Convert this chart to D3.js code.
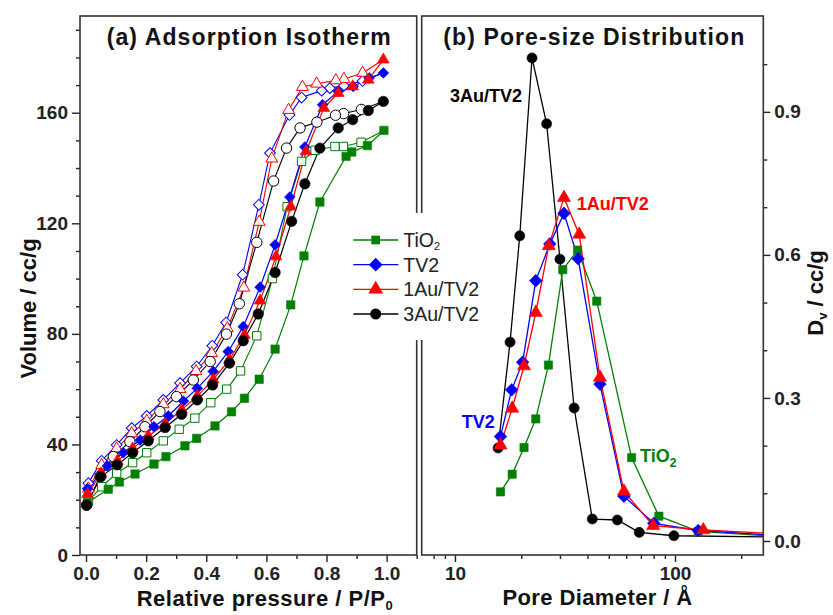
<!DOCTYPE html>
<html lang="en">
<head>
<meta charset="UTF-8">
<title>Adsorption Isotherm / Pore-size Distribution</title>
<script src="https://cdn.jsdelivr.net/npm/d3@7/dist/d3.min.js"></script>
<style>
  body { margin: 0; background: #fff; }
  svg text { font-family: "Liberation Sans", Arial, sans-serif; }
</style>
</head>
<body>
<svg id="chart" width="833" height="615"></svg>
<script>
// ---- data ----
const samples = ['TiO2', 'TV2', '1Au/TV2', '3Au/TV2'];

// (a) isotherm, [P/P0, volume cc/g], adsorption = filled, desorption = open
const adsTiO2 = [[0.005,19],[0.074,23.8],[0.111,26.4],[0.163,29.3],[0.226,32.9],[0.266,35.6],[0.329,39.5],[0.368,42.2],[0.429,46.7],[0.484,51.8],[0.527,56.7],[0.576,63.6],[0.629,74.5],[0.681,90.5],[0.725,108.2],[0.778,127.7],[0.865,144.2],[0.884,145.8],[0.936,148.1],[0.991,153.6]];
const desTiO2 = [[0.991,153.6],[0.915,149.3],[0.856,147.8],[0.828,147.8],[0.762,146.4],[0.717,142.4],[0.669,126],[0.62,100],[0.568,79.3],[0.514,66.6],[0.468,60],[0.415,55.1],[0.362,49.5],[0.31,45.5],[0.257,41.3],[0.202,37],[0.155,33.4],[0.102,29.6],[0.052,24.7],[0.008,19.5]];
const adsTV2 = [[0.005,24],[0.071,32.2],[0.124,37],[0.18,41.6],[0.226,46.4],[0.274,50.3],[0.324,55.7],[0.37,60.3],[0.423,66.4],[0.473,73.6],[0.523,82.6],[0.579,96.9],[0.629,112.2],[0.678,129.5],[0.728,147.6],[0.787,162.9],[0.839,167.7],[0.889,169.5],[0.942,172.6],[0.989,174.4]];
const desTV2 = [[0.989,174.4],[0.92,171.5],[0.858,169.8],[0.811,168.9],[0.784,168],[0.717,165.5],[0.677,159.2],[0.612,145.4],[0.575,126.7],[0.521,101.4],[0.466,84.1],[0.42,75.7],[0.368,68.2],[0.313,62.2],[0.257,56.1],[0.202,50.3],[0.152,45.9],[0.102,39.8],[0.052,34.1],[0.008,26]];
const ads1Au = [[0.005,22],[0.05,29.5],[0.104,34],[0.155,38.5],[0.207,43],[0.263,47.5],[0.318,52.5],[0.37,57.5],[0.423,63.5],[0.477,70.6],[0.527,79.6],[0.579,92],[0.632,108],[0.681,126],[0.732,146],[0.791,161.7],[0.839,167.1],[0.887,169.5],[0.939,171.9],[0.989,179.2]];
const des1Au = [[0.989,179.2],[0.92,174.4],[0.858,172.2],[0.831,171.7],[0.767,170.5],[0.72,169.3],[0.674,161],[0.618,143.4],[0.576,120.5],[0.525,96.7],[0.47,82],[0.418,73],[0.366,66.5],[0.313,60],[0.257,54.5],[0.202,48.5],[0.152,44],[0.102,38.5],[0.052,32.5],[0.008,24]];
const ads3Au = [[0.002,18.1],[0.049,28.3],[0.104,32.6],[0.155,37],[0.207,41.3],[0.263,46.1],[0.318,50.9],[0.37,56.1],[0.421,61.5],[0.477,69.4],[0.523,77.5],[0.573,87.2],[0.629,102.2],[0.684,120.7],[0.728,134.3],[0.778,147.2],[0.839,154.5],[0.887,157.5],[0.939,160.8],[0.989,164.1]];
const des3Au = [[0.989,164.1],[0.916,161.2],[0.857,159.7],[0.83,159.1],[0.768,156.6],[0.712,154.5],[0.667,147.2],[0.624,135.3],[0.568,113.1],[0.51,90.9],[0.467,79.9],[0.413,70],[0.357,63.3],[0.301,57.3],[0.246,51.9],[0.196,46.4],[0.146,41],[0.091,35.6],[0.047,28.6],[0.002,18]];

// (b) pore-size distribution, [pore diameter Å, Dv cc/g]
const psdTiO2 = [[16.1,0.103],[18.2,0.14],[20.6,0.196],[23.3,0.256],[26.6,0.369],[30.9,0.569],[36.1,0.61],[44.1,0.503],[63.5,0.175],[84.5,0.052],[127.6,0.02],[300,0.009]];
const psdTV2 = [[16.1,0.219],[18.1,0.317],[20.3,0.375],[23.3,0.546],[27,0.623],[31.3,0.687],[36.3,0.592],[45.6,0.329],[58.6,0.094],[80.1,0.037],[127.6,0.022],[300,0.011]];
const psd1Au = [[16.1,0.201],[18.2,0.278],[20.6,0.367],[23.3,0.479],[26.7,0.619],[31.3,0.72],[36.7,0.643],[45.6,0.343],[58.6,0.104],[79.6,0.032],[134.5,0.023],[300,0.015]];
const psd3Au = [[15.7,0.195],[17.8,0.417],[19.7,0.64],[22.4,1.013],[26.1,0.875],[30,0.591],[34.8,0.279],[42.1,0.046],[54.7,0.044],[68.8,0.018],[98.9,0.011],[300,0.008]];

const isoAds = [adsTiO2, adsTV2, ads1Au, ads3Au];
const isoDes = [desTiO2, desTV2, des1Au, des3Au];
const psd = [psdTiO2, psdTV2, psd1Au, psd3Au];

const isoXTicks = [0, 0.2, 0.4, 0.6, 0.8, 1.0];
const isoXMinor = [0.1, 0.3, 0.5, 0.7, 0.9, 1.1];
const isoYTicks = [0, 40, 80, 120, 160];
const isoYMinor = [10, 20, 30, 50, 60, 70, 90, 100, 110, 130, 140, 150, 170, 180, 190];
const psdXTicks = [10, 100];
const psdXMinor = [8, 9, 20, 30, 40, 50, 60, 70, 80, 90, 200];
const psdYTicks = [0, 0.3, 0.6, 0.9];
const psdYMinor = [0.1, 0.2, 0.4, 0.5, 0.7, 0.8, 1.0];

// ---- styles ----
const colors = ['#008000', '#0000ff', '#ff0000', '#000000'];
const shapes = ['square', 'diamond', 'triangle', 'circle'];

const svg = d3.select('#chart');
svg.append('rect').attr('width', 833).attr('height', 615).attr('fill', '#fff');

const pa = { x0: 80, x1: 416.7, y0: 16, y1: 555 };
const pb = { x0: 421.7, x1: 763.3, y0: 16, y1: 555 };

const xA = d3.scaleLinear().domain([-0.02, 1.1]).range([pa.x0, pa.x1]);
const yA = d3.scaleLinear().domain([0, 195]).range([pa.y1, pa.y0]);
const xB = d3.scaleLog().domain([7.06, 252]).range([pb.x0, pb.x1]);
const yB = d3.scaleLinear().domain([-0.0294, 1.101]).range([pb.y1, pb.y0]);

const defs = svg.append('defs');
[['clipA', pa], ['clipB', pb]].forEach(([id, p]) => {
  defs.append('clipPath').attr('id', id).append('rect')
    .attr('x', p.x0).attr('y', p.y0).attr('width', p.x1 - p.x0).attr('height', p.y1 - p.y0);
});

function symbolPath(shape, size) {
  const type = shape === 'circle' ? d3.symbolCircle
    : shape === 'triangle' ? d3.symbolTriangle : d3.symbolSquare;
  return d3.symbol().type(type).size(size)();
}

function drawMarkers(g, pts, x, y, i, filled, size) {
  g.selectAll(null).data(pts).enter().append('path')
    .attr('d', symbolPath(shapes[i], size[shapes[i]]))
    .attr('transform', d => `translate(${x(d[0])},${y(d[1])})` + (shapes[i] === 'diamond' ? ' rotate(45)' : ''))
    .attr('fill', filled ? colors[i] : '#fff')
    .attr('stroke', colors[i])
    .attr('stroke-width', filled ? 0.6 : 1);
}

// ---- panel (a) ----
const gA = svg.append('g').attr('clip-path', 'url(#clipA)');
const lineA = d3.line().x(d => xA(d[0])).y(d => yA(d[1]));
const sizeA = { square: 70, diamond: 58, triangle: 60, circle: 85 };
[0, 1, 2, 3].forEach(i => {
  gA.append('path').attr('d', lineA(isoDes[i])).attr('fill', 'none')
    .attr('stroke', colors[i]).attr('stroke-width', 1.1);
  gA.append('path').attr('d', lineA(isoAds[i])).attr('fill', 'none')
    .attr('stroke', colors[i]).attr('stroke-width', 1.2);
});
[0, 1, 2, 3].forEach(i => drawMarkers(gA, isoDes[i].slice(1), xA, yA, i, false, sizeA));
[0, 1, 2, 3].forEach(i => drawMarkers(gA, isoAds[i], xA, yA, i, true, sizeA));

// ---- panel (b) ----
const gB = svg.append('g').attr('clip-path', 'url(#clipB)');
const lineB = d3.line().x(d => xB(d[0])).y(d => yB(d[1]));
const sizeB = { square: 68, diamond: 80, triangle: 75, circle: 80 };
[3, 0, 1, 2].forEach(i => {
  gB.append('path').attr('d', lineB(psd[i])).attr('fill', 'none')
    .attr('stroke', colors[i]).attr('stroke-width', 1.3);
});
[3, 0, 1, 2].forEach(i => drawMarkers(gB, psd[i], xB, yB, i, true, sizeB));

// ---- axes ----
function styleAxis(g, size, weight) {
  g.select('.domain').remove();
  g.attr('font-size', size).attr('font-weight', weight)
    .attr('font-family', '"Liberation Sans", Arial, sans-serif')
    .style('color', '#222');
  g.selectAll('line').attr('stroke-width', 1.4);
}

const axisFmt = d => d3.format('.1f')(d);
svg.append('g').attr('transform', `translate(0,${pa.y1})`)
  .call(d3.axisBottom(xA).tickValues(isoXTicks).tickSize(7).tickPadding(5).tickFormat(axisFmt))
  .call(g => styleAxis(g, 19, 'bold'));
svg.append('g').attr('transform', `translate(0,${pa.y1})`)
  .call(d3.axisBottom(xA).tickValues(isoXMinor).tickSize(4).tickFormat(''))
  .call(g => styleAxis(g, 19, 'bold'));
svg.append('g').attr('transform', `translate(${pa.x0},0)`)
  .call(d3.axisLeft(yA).tickValues(isoYTicks).tickSize(8).tickPadding(4).tickFormat(d3.format('d')))
  .call(g => styleAxis(g, 19, 'bold'));
svg.append('g').attr('transform', `translate(${pa.x0},0)`)
  .call(d3.axisLeft(yA).tickValues(isoYMinor).tickSize(4).tickFormat(''))
  .call(g => styleAxis(g, 19, 'bold'));

svg.append('g').attr('transform', `translate(0,${pb.y1})`)
  .call(d3.axisBottom(xB).tickValues(psdXTicks).tickSize(7).tickPadding(5).tickFormat(d3.format('d')))
  .call(g => styleAxis(g, 19, 'bold'));
svg.append('g').attr('transform', `translate(0,${pb.y1})`)
  .call(d3.axisBottom(xB).tickValues(psdXMinor).tickSize(4).tickFormat(''))
  .call(g => styleAxis(g, 19, 'bold'));
svg.append('g').attr('transform', `translate(${pb.x1},0)`)
  .call(d3.axisRight(yB).tickValues(psdYTicks).tickSize(7).tickPadding(4).tickFormat(axisFmt))
  .call(g => styleAxis(g, 19, 'bold'));
svg.append('g').attr('transform', `translate(${pb.x1},0)`)
  .call(d3.axisRight(yB).tickValues(psdYMinor).tickSize(4).tickFormat(''))
  .call(g => styleAxis(g, 19, 'bold'));

// frames
[pa, pb].forEach(p => {
  svg.append('rect').attr('x', p.x0).attr('y', p.y0)
    .attr('width', p.x1 - p.x0).attr('height', p.y1 - p.y0)
    .attr('fill', 'none').attr('stroke', '#333').attr('stroke-width', 1.6);
});

// ---- titles and labels ----
svg.append('text').attr('x', 106.7).attr('y', 45)
  .attr('font-size', 23).attr('font-weight', 'bold').attr('letter-spacing', 1.1).attr('fill', '#111')
  .text('(a) Adsorption Isotherm');
svg.append('text').attr('x', 443.3).attr('y', 45)
  .attr('font-size', 23).attr('font-weight', 'bold').attr('letter-spacing', 1.1).attr('fill', '#111')
  .text('(b) Pore-size Distribution');

const xlab = svg.append('text').attr('x', 136.7).attr('y', 606)
  .attr('font-size', 22).attr('font-weight', 'bold').attr('letter-spacing', 0.5).attr('fill', '#111');
xlab.append('tspan').text('Relative pressure / P/P');
xlab.append('tspan').attr('font-size', 13).attr('dy', 4).text('0');

svg.append('text').attr('x', 597.5).attr('y', 605).attr('text-anchor', 'middle')
  .attr('font-size', 22).attr('font-weight', 'bold').attr('letter-spacing', 0.4).attr('fill', '#111')
  .text('Pore Diameter / Å');

svg.append('text').attr('transform', 'translate(36,308.5) rotate(-90)').attr('text-anchor', 'middle')
  .attr('font-size', 22).attr('font-weight', 'bold').attr('fill', '#111')
  .text('Volume / cc/g');

const ylabB = svg.append('text').attr('transform', 'translate(823,293) rotate(-90)').attr('text-anchor', 'middle')
  .attr('font-size', 22).attr('font-weight', 'bold').attr('fill', '#111');
ylabB.append('tspan').text('D');
ylabB.append('tspan').attr('font-size', 13).attr('dy', 4).text('v');
ylabB.append('tspan').attr('dy', -4).text(' / cc/g');

// in-plot labels for panel (b)
function subLabel(x, y, color, main, sub) {
  const t = svg.append('text').attr('x', x).attr('y', y)
    .attr('font-size', 18).attr('font-weight', 'bold').attr('fill', color);
  t.append('tspan').text(main);
  if (sub) t.append('tspan').attr('font-size', 12).attr('dy', 5).text(sub);
}
subLabel(450, 101.7, colors[3], '3Au/TV2');
subLabel(576.7, 210, colors[2], '1Au/TV2');
subLabel(461.7, 428.3, colors[1], 'TV2');
subLabel(640, 461.7, colors[0], 'TiO', '2');

// ---- legend ----
svg.append('rect').attr('x', 350).attr('y', 213).attr('width', 134).attr('height', 127).attr('fill', '#fff');
const legendY = d3.scalePoint().domain(samples).range([240, 314]);
const sizeL = { square: 75, diamond: 95, triangle: 95, circle: 95 };
samples.forEach((s, i) => {
  const y = legendY(s);
  svg.append('line').attr('x1', 353.3).attr('x2', 398.3).attr('y1', y).attr('y2', y)
    .attr('stroke', colors[i]).attr('stroke-width', 1.3);
  svg.append('path').attr('d', symbolPath(shapes[i], sizeL[shapes[i]]))
    .attr('transform', `translate(375.7,${y})` + (shapes[i] === 'diamond' ? ' rotate(45)' : ''))
    .attr('fill', colors[i]);
  const t = svg.append('text').attr('x', 403.3).attr('y', y + 7)
    .attr('font-size', 19.5).attr('fill', '#222');
  if (s === 'TiO2') {
    t.append('tspan').text('TiO');
    t.append('tspan').attr('font-size', 11).attr('dy', 3).text('2');
  } else {
    t.text(s);
  }
});
</script>
</body>
</html>
